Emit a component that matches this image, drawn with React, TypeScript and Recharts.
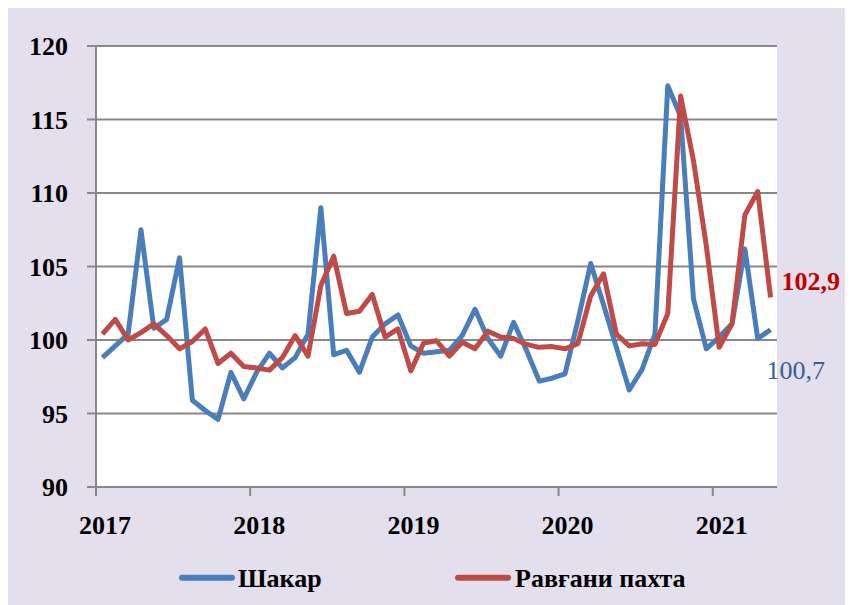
import React from 'react';
import { LineChart, Line, XAxis, YAxis, CartesianGrid, Legend } from 'recharts';

// ---- data ----
const yearLabels = ['2017', '2018', '2019', '2020', '2021'];
const seriesNames = ['Шакар', 'Равғани пахта'];

// monthly values, Jan 2017 .. May 2021
const shakar = [
  98.8, 99.6, 100.4, 107.5, 100.8, 101.4, 105.6, 95.9, 95.2, 94.6, 97.8, 96.0,
  97.8, 99.1, 98.1, 98.8, 100.4, 109.0, 99.0, 99.3, 97.8, 100.2, 101.1, 101.7,
  99.6, 99.1, 99.2, 99.3, 100.3, 102.1, 100.1, 98.9, 101.2, 99.3, 97.2, 97.4,
  97.7, 101.3, 105.2, 102.4, 99.5, 96.6, 98.0, 100.4, 117.3, 115.2, 102.8, 99.4,
  100.2, 101.1, 106.2, 100.1, 100.7,
];
const pakhta = [
  100.4, 101.4, 100.0, 100.5, 101.1, 100.3, 99.4, 99.9, 100.75, 98.4, 99.1, 98.2,
  98.1, 97.95, 98.8, 100.3, 98.9, 103.7, 105.7, 101.8, 101.95, 103.1, 100.2, 100.75,
  97.9, 99.8, 99.95, 98.9, 99.85, 99.4, 100.6, 100.2, 100.1, 99.7, 99.5, 99.55,
  99.4, 99.75, 103.0, 104.5, 100.4, 99.6, 99.75, 99.7, 101.8, 116.6, 112.2, 106.4,
  99.5, 101.1, 108.5, 110.1, 102.9,
];
const yTicks = [90, 95, 100, 105, 110, 115, 120];

// month i is plotted at the middle of its month slot
const data = shakar.map((v, i) => ({ t: i + 0.5, shakar: v, pakhta: pakhta[i] }));
const xTicks = yearLabels.map((_, k) => k * 12);
const LAST = shakar.length - 1;

const BLUE = '#4A7EBB';
const RED = '#BE4B48';
const GRID = '#888888';
const FONT = '"Liberation Serif", "Times New Roman", serif';

const fmt = (v: number) => v.toFixed(1).replace('.', ',');

const XTick = (props: any) => {
  const { x, y, payload } = props;
  const label = yearLabels[Math.round(payload.value / 12)];
  return (
    <text x={x + 9} y={y} dy="0.71em" textAnchor="middle" fontFamily={FONT} fontWeight="bold" fontSize={26} fill="#000">
      {label}
    </text>
  );
};

const endDot = (key: string, color: string, dx: number, dy: number, weight: string) => (props: any) => {
  const { cx, cy, index, payload } = props;
  if (index !== LAST) return <g key={`d-${key}-${index}`} />;
  return (
    <text key={`d-${key}-${index}`} x={cx + dx} y={cy + dy} fill={color} fontFamily={FONT} fontWeight={weight} fontSize={26}>
      {fmt(payload[key])}
    </text>
  );
};

const renderLegend = () => (
  <svg width={845} height={40} style={{ display: 'block' }}>
    <line x1={174} x2={224} y1={19.7} y2={19.7} stroke={BLUE} strokeWidth={6} strokeLinecap="round" />
    <text x={230} y={28.7} fontFamily={FONT} fontWeight="bold" fontSize={26} fill="#000">{seriesNames[0]}</text>
    <line x1={450} x2={500} y1={19.7} y2={19.7} stroke={RED} strokeWidth={6} strokeLinecap="round" />
    <text x={507} y={28.7} fontFamily={FONT} fontWeight="bold" fontSize={26} fill="#000">{seriesNames[1]}</text>
  </svg>
);

export default function App() {
  return (
    <div style={{ width: 845, height: 597, background: '#E4DFEC' }}>
      <LineChart width={845} height={597} data={data} margin={{ top: 38, right: 76, left: 0, bottom: 7 }}>
        <CartesianGrid horizontal vertical={false} stroke={GRID} strokeWidth={2} fill="#FFFFFF" fillOpacity={1} />
        <XAxis
          dataKey="t"
          type="number"
          domain={[0, 53]}
          ticks={xTicks}
          interval={0}
          height={71}
          tickSize={9}
          tickMargin={20}
          axisLine={{ stroke: GRID, strokeWidth: 2 }}
          tickLine={{ stroke: GRID, strokeWidth: 2 }}
          tick={<XTick />}
        />
        <YAxis
          domain={[90, 120]}
          ticks={yTicks}
          interval={0}
          width={88}
          tickSize={9}
          tickMargin={19}
          axisLine={{ stroke: GRID, strokeWidth: 2 }}
          tickLine={{ stroke: GRID, strokeWidth: 2 }}
          tick={{ fill: '#000', fontSize: 26, fontWeight: 'bold', fontFamily: FONT }}
        />
        <Legend
          verticalAlign="bottom"
          content={renderLegend}
          wrapperStyle={{ left: 0, bottom: 7, width: 845, height: 40 }}
        />
        <Line
          type="linear"
          dataKey="shakar"
          name={seriesNames[0]}
          stroke={BLUE}
          strokeWidth={5}
          strokeLinejoin="round"
          dot={endDot('shakar', '#376092', -4, 49.6, 'normal')}
          activeDot={false}
          isAnimationActive={false}
        />
        <Line
          type="linear"
          dataKey="pakhta"
          name={seriesNames[1]}
          stroke={RED}
          strokeWidth={5}
          strokeLinejoin="round"
          dot={endDot('pakhta', '#C00000', 11, -7, 'bold')}
          activeDot={false}
          isAnimationActive={false}
        />
      </LineChart>
    </div>
  );
}
